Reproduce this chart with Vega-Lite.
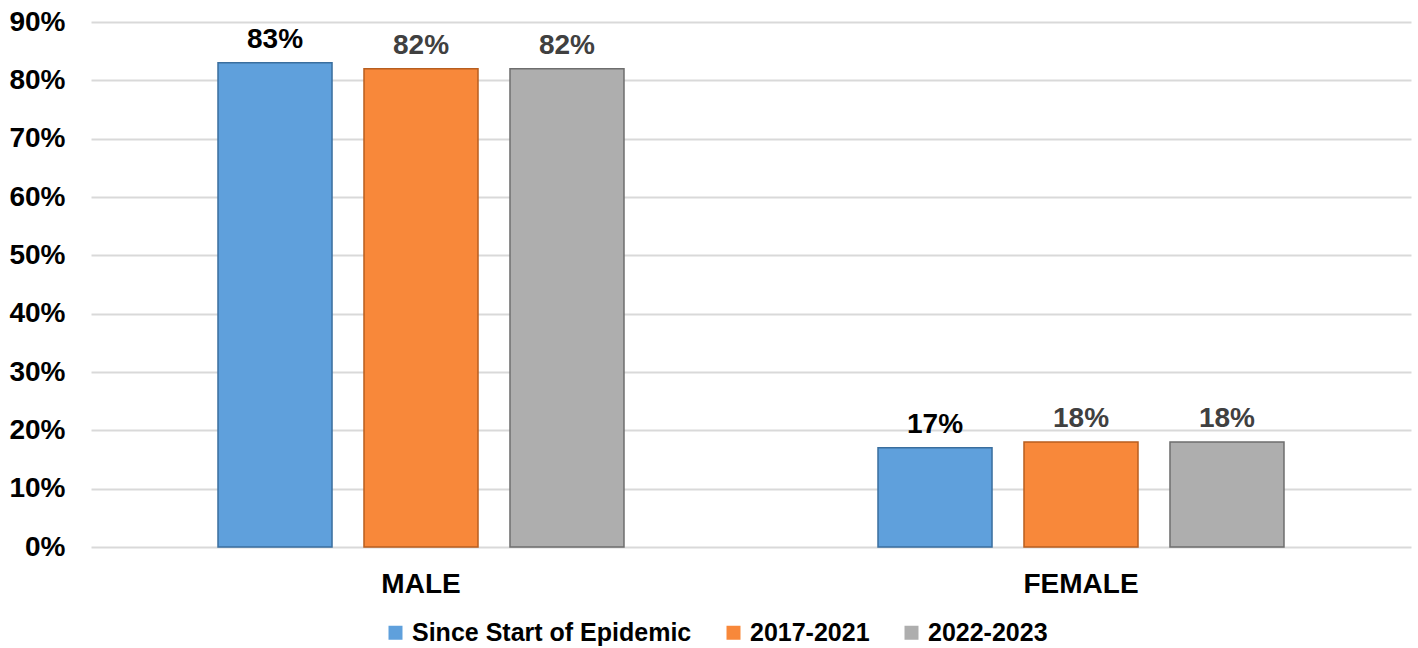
{
  "$schema": "https://vega.github.io/schema/vega-lite/v6.json",
  "width": 1320,
  "height": 525,
  "autosize": {"type": "none"},
  "padding": {"left": 91, "top": 22, "right": 7, "bottom": 101},
  "background": "white",
  "config": {
    "font": "Liberation Sans",
    "view": {"stroke": null}
  },
  "data": {
    "values": [
      {"sex": "MALE", "period": "Since Start of Epidemic", "pct": 83, "label": "83%"},
      {"sex": "MALE", "period": "2017-2021", "pct": 82, "label": "82%"},
      {"sex": "MALE", "period": "2022-2023", "pct": 82, "label": "82%"},
      {"sex": "FEMALE", "period": "Since Start of Epidemic", "pct": 17, "label": "17%"},
      {"sex": "FEMALE", "period": "2017-2021", "pct": 18, "label": "18%"},
      {"sex": "FEMALE", "period": "2022-2023", "pct": 18, "label": "18%"}
    ]
  },
  "encoding": {
    "x": {
      "field": "sex", "type": "nominal", "sort": ["MALE", "FEMALE"],
      "scale": {"paddingInner": 0, "paddingOuter": 0},
      "axis": {
        "title": null, "labelAngle": 0, "labelFontSize": 28, "labelFontWeight": "bold",
        "labelColor": "#000000", "labelPadding": 23, "ticks": false, "domain": false
      }
    },
    "xOffset": {
      "field": "period", "type": "nominal",
      "sort": ["Since Start of Epidemic", "2017-2021", "2022-2023"],
      "scale": {"paddingInner": 0.219, "paddingOuter": 0.87}
    },
    "y": {
      "field": "pct", "type": "quantitative",
      "scale": {"domain": [0, 90], "nice": false},
      "axis": {
        "title": null, "values": [0, 10, 20, 30, 40, 50, 60, 70, 80, 90],
        "labelExpr": "datum.value + '%'", "labelFontSize": 28, "labelFontWeight": "bold",
        "labelColor": "#000000", "labelPadding": 26, "ticks": false, "domain": false,
        "gridColor": "#D9D9D9", "gridWidth": 2
      }
    }
  },
  "layer": [
    {
      "mark": {"type": "bar", "strokeWidth": 1.5},
      "encoding": {
        "color": {
          "field": "period", "type": "nominal",
          "sort": ["Since Start of Epidemic", "2017-2021", "2022-2023"],
          "scale": {
            "domain": ["Since Start of Epidemic", "2017-2021", "2022-2023"],
            "range": ["#5FA0DC", "#F8883A", "#AEAEAE"]
          },
          "legend": {
            "title": null, "orient": "none", "direction": "horizontal", "columns": 3,
            "legendX": 292, "legendY": 598,
            "symbolType": "square", "symbolSize": 196, "symbolStrokeWidth": 0,
            "labelFontSize": 25, "labelFontWeight": "bold", "labelColor": "#000000",
            "labelOffset": 4, "columnPadding": 29, "labelLimit": 0
          }
        },
        "stroke": {
          "field": "period", "type": "nominal",
          "scale": {
            "domain": ["Since Start of Epidemic", "2017-2021", "2022-2023"],
            "range": ["#3A6E9E", "#B85E1F", "#6E6E6E"]
          },
          "legend": null
        }
      }
    },
    {
      "mark": {"type": "text", "baseline": "alphabetic", "dy": -15, "fontSize": 28, "fontWeight": "bold"},
      "encoding": {
        "text": {"field": "label"},
        "color": {
          "field": "period", "type": "nominal",
          "scale": {
            "domain": ["Since Start of Epidemic", "2017-2021", "2022-2023"],
            "range": ["#000000", "#404040", "#404040"]
          },
          "legend": null
        }
      }
    }
  ],
  "resolve": {"scale": {"color": "independent"}}
}
